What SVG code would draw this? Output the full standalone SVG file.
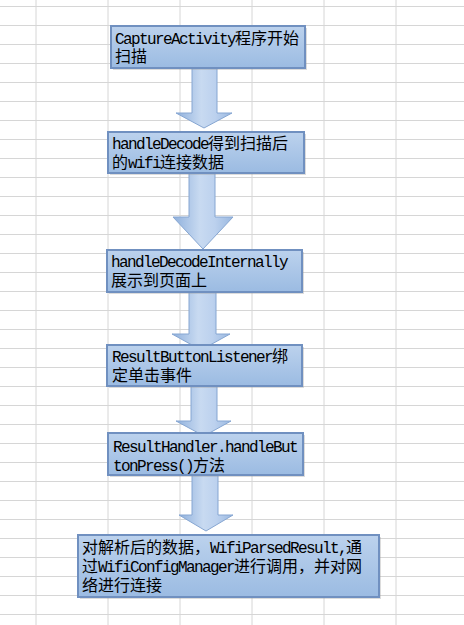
<svg xmlns="http://www.w3.org/2000/svg" width="464" height="625" viewBox="0 0 464 625">
<defs>
<linearGradient id="boxg" x1="0" y1="0" x2="0" y2="1">
<stop offset="0" stop-color="#bcd2ed"/>
<stop offset="1" stop-color="#9bbbe2"/>
</linearGradient>
<linearGradient id="arrg" x1="0" y1="0" x2="1" y2="0">
<stop offset="0" stop-color="#8fb0dc"/>
<stop offset="0.45" stop-color="#c8daf1"/>
<stop offset="0.7" stop-color="#bcd1ee"/>
<stop offset="1" stop-color="#9ab8e0"/>
</linearGradient>
<style>
.grid line{stroke:#d6d6d6;stroke-width:1}
.box{fill:url(#boxg);stroke:#7090c0;stroke-width:2}
.shadow{fill:#9a9a9a;opacity:0.35}
.arr{fill:url(#arrg);stroke:#86a6d2;stroke-width:1}
text{font-family:"Liberation Mono","Noto Sans CJK SC",monospace;font-size:16px;fill:#000}
.l{letter-spacing:-1.6px}
</style>
</defs>
<rect width="464" height="625" fill="#ffffff"/>
<g class="grid">
<line x1="36" y1="0" x2="36" y2="625"/>
<line x1="108" y1="0" x2="108" y2="625"/>
<line x1="180" y1="0" x2="180" y2="625"/>
<line x1="252" y1="0" x2="252" y2="625"/>
<line x1="324" y1="0" x2="324" y2="625"/>
<line x1="396" y1="0" x2="396" y2="625"/>
<line x1="0" y1="6.5" x2="464" y2="6.5"/>
<line x1="0" y1="25.5" x2="464" y2="25.5"/>
<line x1="0" y1="44.5" x2="464" y2="44.5"/>
<line x1="0" y1="63.5" x2="464" y2="63.5"/>
<line x1="0" y1="82.5" x2="464" y2="82.5"/>
<line x1="0" y1="101.5" x2="464" y2="101.5"/>
<line x1="0" y1="120.5" x2="464" y2="120.5"/>
<line x1="0" y1="139.5" x2="464" y2="139.5"/>
<line x1="0" y1="158.5" x2="464" y2="158.5"/>
<line x1="0" y1="177.5" x2="464" y2="177.5"/>
<line x1="0" y1="196.5" x2="464" y2="196.5"/>
<line x1="0" y1="215.5" x2="464" y2="215.5"/>
<line x1="0" y1="234.5" x2="464" y2="234.5"/>
<line x1="0" y1="253.5" x2="464" y2="253.5"/>
<line x1="0" y1="272.5" x2="464" y2="272.5"/>
<line x1="0" y1="291.5" x2="464" y2="291.5"/>
<line x1="0" y1="310.5" x2="464" y2="310.5"/>
<line x1="0" y1="329.5" x2="464" y2="329.5"/>
<line x1="0" y1="348.5" x2="464" y2="348.5"/>
<line x1="0" y1="367.5" x2="464" y2="367.5"/>
<line x1="0" y1="386.5" x2="464" y2="386.5"/>
<line x1="0" y1="405.5" x2="464" y2="405.5"/>
<line x1="0" y1="424.5" x2="464" y2="424.5"/>
<line x1="0" y1="443.5" x2="464" y2="443.5"/>
<line x1="0" y1="462.5" x2="464" y2="462.5"/>
<line x1="0" y1="481.5" x2="464" y2="481.5"/>
<line x1="0" y1="500.5" x2="464" y2="500.5"/>
<line x1="0" y1="519.5" x2="464" y2="519.5"/>
<line x1="0" y1="538.5" x2="464" y2="538.5"/>
<line x1="0" y1="557.5" x2="464" y2="557.5"/>
<line x1="0" y1="576.5" x2="464" y2="576.5"/>
<line x1="0" y1="595.5" x2="464" y2="595.5"/>
<line x1="0" y1="614.5" x2="464" y2="614.5"/>
</g>
<g id="connectors">
<polygon class="arr" points="192,68 217,68 217,113 232,113 204,128 176,113 192,113"/>
<polygon class="arr" points="189,173 215,173 215,217 233,217 203,249 173,217 189,217"/>
<polygon class="arr" points="189,292 216,292 216,334 230,334 201,350 172,334 189,334"/>
<polygon class="arr" points="191,386 217,386 217,421 231,421 204,436 176,421 191,421"/>
<polygon class="arr" points="192,475 218,475 218,515 233,515 206,531 179,515 192,515"/>
</g>
<g id="n1">
<rect class="shadow" x="113" y="28" width="194" height="42"/>
<rect class="box" x="111" y="26" width="194" height="42"/>
<text x="115" y="44"><tspan class="l">CaptureActivity</tspan>程序开始</text>
<text x="115" y="62">扫描</text>
</g>
<g id="n2">
<rect class="shadow" x="110" y="134" width="196" height="41"/>
<rect class="box" x="108" y="132" width="196" height="41"/>
<text x="112" y="148.5"><tspan class="l">handleDecode</tspan>得到扫描后</text>
<text x="112" y="167.5">的<tspan class="l">wifi</tspan>连接数据</text>
</g>
<g id="n3">
<rect class="shadow" x="109" y="252" width="195" height="42"/>
<rect class="box" x="107" y="250" width="195" height="42"/>
<text x="111" y="267"><tspan class="l">handleDecodeInternally</tspan></text>
<text x="111" y="286">展示到页面上</text>
</g>
<g id="n4">
<rect class="shadow" x="109" y="347" width="195" height="41"/>
<rect class="box" x="107" y="345" width="195" height="41"/>
<text x="112" y="362"><tspan class="l">ResultButtonListener</tspan>绑</text>
<text x="112" y="381">定单击事件</text>
</g>
<g id="n5">
<rect class="shadow" x="110" y="435" width="195" height="42"/>
<rect class="box" x="108" y="433" width="195" height="42"/>
<text x="113" y="452"><tspan class="l">ResultHandler.handleBut</tspan></text>
<text x="113" y="470.5"><tspan class="l">tonPress()</tspan>方法</text>
</g>
<g id="n6">
<rect class="shadow" x="80" y="537" width="301" height="62"/>
<rect class="box" x="78" y="535" width="301" height="62"/>
<text x="82" y="552.5">对解析后的数据，<tspan class="l">WifiParsedResult,</tspan>通</text>
<text x="82" y="571.5">过<tspan class="l">WifiConfigManager</tspan>进行调用，并对网</text>
<text x="82" y="590.5">络进行连接</text>
</g>
</svg>
